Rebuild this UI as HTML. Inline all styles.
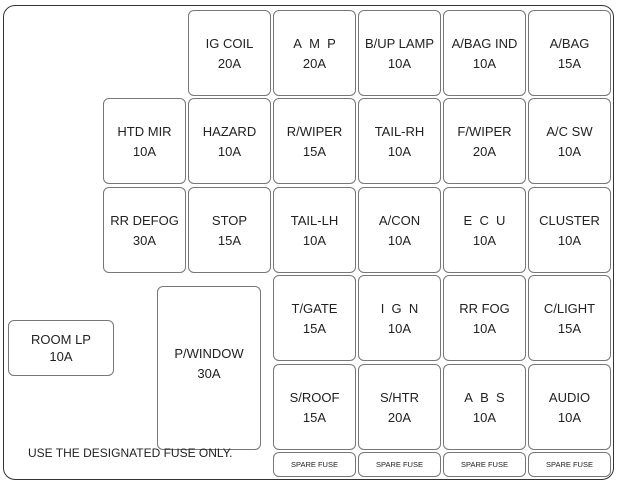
<!DOCTYPE html>
<html><head><style>
body{margin:0;width:620px;height:489px;background:#fff;position:relative;overflow:hidden;font-family:"Liberation Sans",Arial,sans-serif;color:#222}
.o{position:absolute;left:3px;top:5px;width:609px;height:473px;border:1.5px solid #333;border-radius:12px}
.b{position:absolute;border:1px solid #777;border-radius:6px;box-sizing:border-box;display:flex;flex-direction:column;justify-content:center;align-items:center;font-size:13px;line-height:20px;text-align:center;padding-top:2px}
.s{font-size:7.5px;line-height:10px;padding-top:0}
.t{position:absolute;left:28px;top:446px;font-size:12px}
</style></head><body>
<div class="o"></div>
<div class="b" style="left:188px;top:10px;width:83px;height:86px">IG COIL<br>20A</div>
<div class="b" style="left:273px;top:10px;width:83px;height:86px">A&nbsp; M&nbsp; P<br>20A</div>
<div class="b" style="left:358px;top:10px;width:83px;height:86px">B/UP LAMP<br>10A</div>
<div class="b" style="left:443px;top:10px;width:83px;height:86px">A/BAG IND<br>10A</div>
<div class="b" style="left:528px;top:10px;width:83px;height:86px">A/BAG<br>15A</div>

<div class="b" style="left:103px;top:98px;width:83px;height:86px">HTD MIR<br>10A</div>
<div class="b" style="left:188px;top:98px;width:83px;height:86px">HAZARD<br>10A</div>
<div class="b" style="left:273px;top:98px;width:83px;height:86px">R/WIPER<br>15A</div>
<div class="b" style="left:358px;top:98px;width:83px;height:86px">TAIL-RH<br>10A</div>
<div class="b" style="left:443px;top:98px;width:83px;height:86px">F/WIPER<br>20A</div>
<div class="b" style="left:528px;top:98px;width:83px;height:86px">A/C SW<br>10A</div>

<div class="b" style="left:103px;top:187px;width:83px;height:86px">RR DEFOG<br>30A</div>
<div class="b" style="left:188px;top:187px;width:83px;height:86px">STOP<br>15A</div>
<div class="b" style="left:273px;top:187px;width:83px;height:86px">TAIL-LH<br>10A</div>
<div class="b" style="left:358px;top:187px;width:83px;height:86px">A/CON<br>10A</div>
<div class="b" style="left:443px;top:187px;width:83px;height:86px">E&nbsp; C&nbsp; U<br>10A</div>
<div class="b" style="left:528px;top:187px;width:83px;height:86px">CLUSTER<br>10A</div>

<div class="b" style="left:273px;top:275px;width:83px;height:86px">T/GATE<br>15A</div>
<div class="b" style="left:358px;top:275px;width:83px;height:86px">I&nbsp; G&nbsp; N<br>10A</div>
<div class="b" style="left:443px;top:275px;width:83px;height:86px">RR FOG<br>10A</div>
<div class="b" style="left:528px;top:275px;width:83px;height:86px">C/LIGHT<br>15A</div>

<div class="b" style="left:273px;top:364px;width:83px;height:86px">S/ROOF<br>15A</div>
<div class="b" style="left:358px;top:364px;width:83px;height:86px">S/HTR<br>20A</div>
<div class="b" style="left:443px;top:364px;width:83px;height:86px">A&nbsp; B&nbsp; S<br>10A</div>
<div class="b" style="left:528px;top:364px;width:83px;height:86px">AUDIO<br>10A</div>

<div class="b s" style="left:273px;top:452px;width:83px;height:25px">SPARE FUSE</div>
<div class="b s" style="left:358px;top:452px;width:83px;height:25px">SPARE FUSE</div>
<div class="b s" style="left:443px;top:452px;width:83px;height:25px">SPARE FUSE</div>
<div class="b s" style="left:528px;top:452px;width:83px;height:25px">SPARE FUSE</div>

<div class="b" style="left:157px;top:286px;width:104px;height:164px;padding-top:0;padding-bottom:8px">P/WINDOW<br>30A</div>
<div class="b" style="left:8px;top:320px;width:106px;height:56px;line-height:17px;padding-top:0">ROOM LP<br>10A</div>
<div class="t">USE THE DESIGNATED FUSE ONLY.</div>
</body></html>
